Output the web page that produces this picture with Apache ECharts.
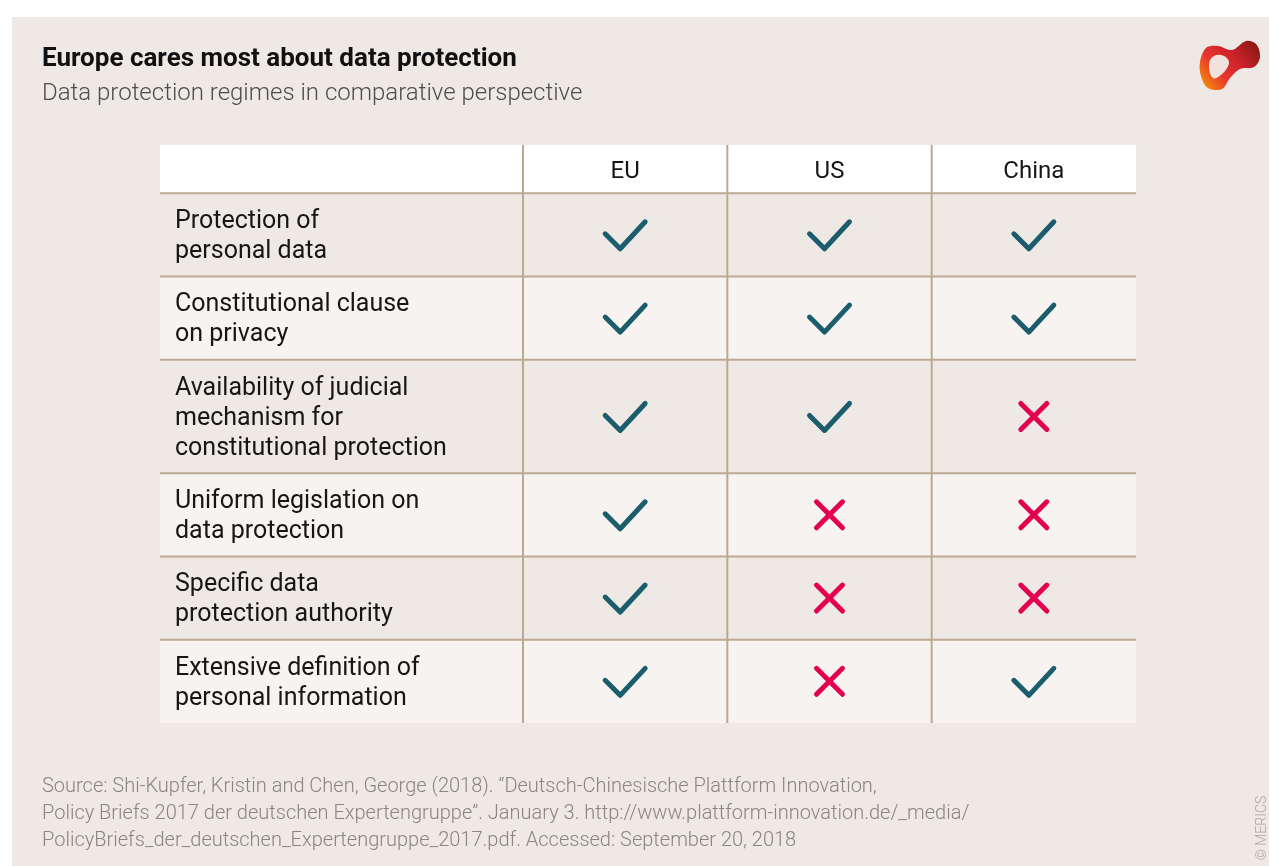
<!DOCTYPE html>
<html>
<head>
<meta charset="utf-8">
<title>Europe cares most about data protection</title>
<script src="https://cdn.jsdelivr.net/npm/echarts@6/dist/echarts.min.js"></script>
<style>
  html, body { margin: 0; padding: 0; background: #ffffff; }
  #chart { width: 1269px; height: 866px; }
</style>
</head>
<body>
<div id="chart"></div>
<script>
// ---- data ----
const countries = ['EU', 'US', 'China']
const criteria = [
  'Protection of\npersonal data',
  'Constitutional clause\non privacy',
  'Availability of judicial\nmechanism for\nconstitutional protection',
  'Uniform legislation on\ndata protection',
  'Specific data\nprotection authority',
  'Extensive definition of\npersonal information'
]
// 1 = yes (check mark), 0 = no (cross)
const euValues = [1, 1, 1, 1, 1, 1]
const usValues = [1, 1, 1, 0, 0, 0]
const chinaValues = [1, 1, 0, 0, 0, 1]
const sourceLines = [
  'Source: Shi-Kupfer, Kristin and Chen, George (2018). \u201cDeutsch-Chinesische Plattform Innovation,',
  'Policy Briefs 2017 der deutschen Expertengruppe\u201d. January 3. http://www.plattform-innovation.de/_media/',
  'PolicyBriefs_der_deutschen_Expertengruppe_2017.pdf. Accessed: September 20, 2018'
]

// ---- layout ----
const HEADER_H = 48
const LINE_H = 30
const ROW_PAD = 23
const LABEL_COL_W = 363
const RULE = '#BBA994'
const CHECK = '#1B5D6C'
const CROSS = '#E2004F'
const TEXT = '#161616'
const FONT = 'Roboto, "Noto Sans", sans-serif'

// row extents on the y value axis (header first)
const rowStart = []
const rowEnd = []
let acc = HEADER_H
criteria.forEach((c) => {
  const h = ROW_PAD + LINE_H * c.split('\n').length
  rowStart.push(acc)
  rowEnd.push(acc + h)
  acc += h
})
const TOTAL = acc

const rowData = [[0, 0, HEADER_H, -1]].concat(
  criteria.map((c, i) => [0, rowStart[i], rowEnd[i], i])
)
const valuesByCountry = [euValues, usValues, chinaValues]
const markData = []
criteria.forEach((c, i) => {
  valuesByCountry.forEach((vals, k) => {
    markData.push([k, rowStart[i], rowEnd[i], vals[i]])
  })
})

const renderRow = (params, api) => {
  const idx = api.value(3)
  const cs = params.coordSys
  const left = cs.x - LABEL_COL_W
  const right = cs.x + cs.width
  const y0 = api.coord([0, api.value(1)])[1]
  const y1 = api.coord([0, api.value(2)])[1]
  const bw = api.size([1, 0])[0]
  const children = []
  const fill = idx < 0 ? '#ffffff' : (idx % 2 === 0 ? '#EEE9E5' : '#F6F3F0')
  children.push({ type: 'rect', shape: { x: left, y: y0, width: right - left, height: y1 - y0 }, style: { fill } })
  countries.forEach((name, k) => {
    const x = api.coord([k, 0])[0] - bw / 2
    children.push({ type: 'line', shape: { x1: x, y1: y0, x2: x, y2: y1 }, style: { stroke: RULE, lineWidth: 2 } })
  })
  if (idx >= 0) {
    children.push({ type: 'line', shape: { x1: left, y1: y0, x2: right, y2: y0 }, style: { stroke: RULE, lineWidth: 2 } })
    children.push({
      type: 'text',
      style: {
        text: criteria[idx], x: left + 15, y: (y0 + y1) / 2 + 2,
        font: '25px ' + FONT, fill: TEXT, lineHeight: LINE_H,
        align: 'left', verticalAlign: 'middle', textAlign: 'left', textVerticalAlign: 'middle'
      }
    })
  } else {
    countries.forEach((name, k) => {
      const x = api.coord([k, 0])[0]
      children.push({
        type: 'text',
        style: {
          text: name, x, y: (y0 + y1) / 2 + 3,
          font: '24px ' + FONT, fill: TEXT,
          align: 'center', verticalAlign: 'middle', textAlign: 'center', textVerticalAlign: 'middle'
        }
      })
    })
  }
  return { type: 'group', children }
}

const renderMark = (params, api) => {
  const p = api.coord([api.value(0), (api.value(1) + api.value(2)) / 2])
  const x = p[0]
  const y = p[1]
  if (api.value(3) === 1) {
    return {
      type: 'polyline',
      shape: { points: [[x - 20, y - 1], [x - 5, y + 14], [x + 20, y - 13]] },
      style: { stroke: CHECK, lineWidth: 5, lineCap: 'round', lineJoin: 'round', fill: null }
    }
  }
  return {
    type: 'group',
    children: [
      { type: 'line', shape: { x1: x - 13, y1: y - 13, x2: x + 13, y2: y + 13 }, style: { stroke: CROSS, lineWidth: 5, lineCap: 'round' } },
      { type: 'line', shape: { x1: x - 13, y1: y + 13, x2: x + 13, y2: y - 13 }, style: { stroke: CROSS, lineWidth: 5, lineCap: 'round' } }
    ]
  }
}

const chart = echarts.init(document.getElementById('chart'))

const option = {
  animation: false,
  title: {
    text: 'Europe cares most about data protection',
    subtext: 'Data protection regimes in comparative perspective',
    left: 42,
    top: 45,
    itemGap: 6,
    padding: 0,
    textStyle: { fontFamily: FONT, fontSize: 26, fontWeight: 'bold', color: '#111111', lineHeight: 29 },
    subtextStyle: { fontFamily: FONT, fontSize: 24, fontWeight: 300, color: '#4d4d4d', lineHeight: 28 }
  },
  graphic: [
    { type: 'rect', z: -10, shape: { x: 12, y: 17, width: 1257, height: 849 }, style: { fill: '#EEE9E5' } },
    {
      type: 'text', z: 5,
      style: {
        text: sourceLines.join('\n'), x: 42, y: 773,
        font: '300 20px ' + FONT, fill: '#8A8580', lineHeight: 27,
        textVerticalAlign: 'top', verticalAlign: 'top'
      }
    },
    {
      type: 'text', z: 5, x: 1262, y: 828, rotation: Math.PI / 2,
      style: {
        text: '\u00a9 MERICS', x: 0, y: 0,
        font: '300 14px ' + FONT, fill: '#A8A4A0',
        align: 'center', verticalAlign: 'middle', textAlign: 'center', textVerticalAlign: 'middle'
      }
    },
    {
      type: 'polygon', z: 5,
      shape: {
        smooth: 0.35,
        points: [[1200, 62], [1206, 48], [1218, 46], [1232, 50], [1246, 41], [1256, 44], [1260, 57],
          [1254, 67], [1240, 69], [1230, 78], [1222, 89], [1208, 88], [1201, 76]]
      },
      style: {
        fill: new echarts.graphic.LinearGradient(1, 0, 0, 1, [
          { offset: 0, color: '#7A1A0C' },
          { offset: 0.35, color: '#C8202A' },
          { offset: 0.65, color: '#E8352F' },
          { offset: 1, color: '#F7A000' }
        ])
      }
    },
    {
      type: 'polygon', z: 6,
      shape: {
        smooth: 0.4,
        points: [[1209, 64], [1214, 56], [1224, 56], [1229, 63], [1222, 74], [1213, 78]]
      },
      style: { fill: '#F3E3DF' }
    }
  ],
  grid: { left: 523, top: 145, width: 613, height: 578 },
  xAxis: { type: 'category', data: countries, show: false },
  yAxis: { type: 'value', inverse: true, min: 0, max: TOTAL, show: false },
  series: [
    {
      type: 'custom',
      name: 'rows',
      renderItem: renderRow,
      encode: { x: 0, y: [1, 2] },
      data: rowData,
      z: 1,
      silent: true
    },
    {
      type: 'custom',
      name: 'marks',
      renderItem: renderMark,
      encode: { x: 0, y: [1, 2] },
      data: markData,
      z: 2,
      silent: true
    }
  ]
}

chart.setOption(option)
</script>
</body>
</html>
